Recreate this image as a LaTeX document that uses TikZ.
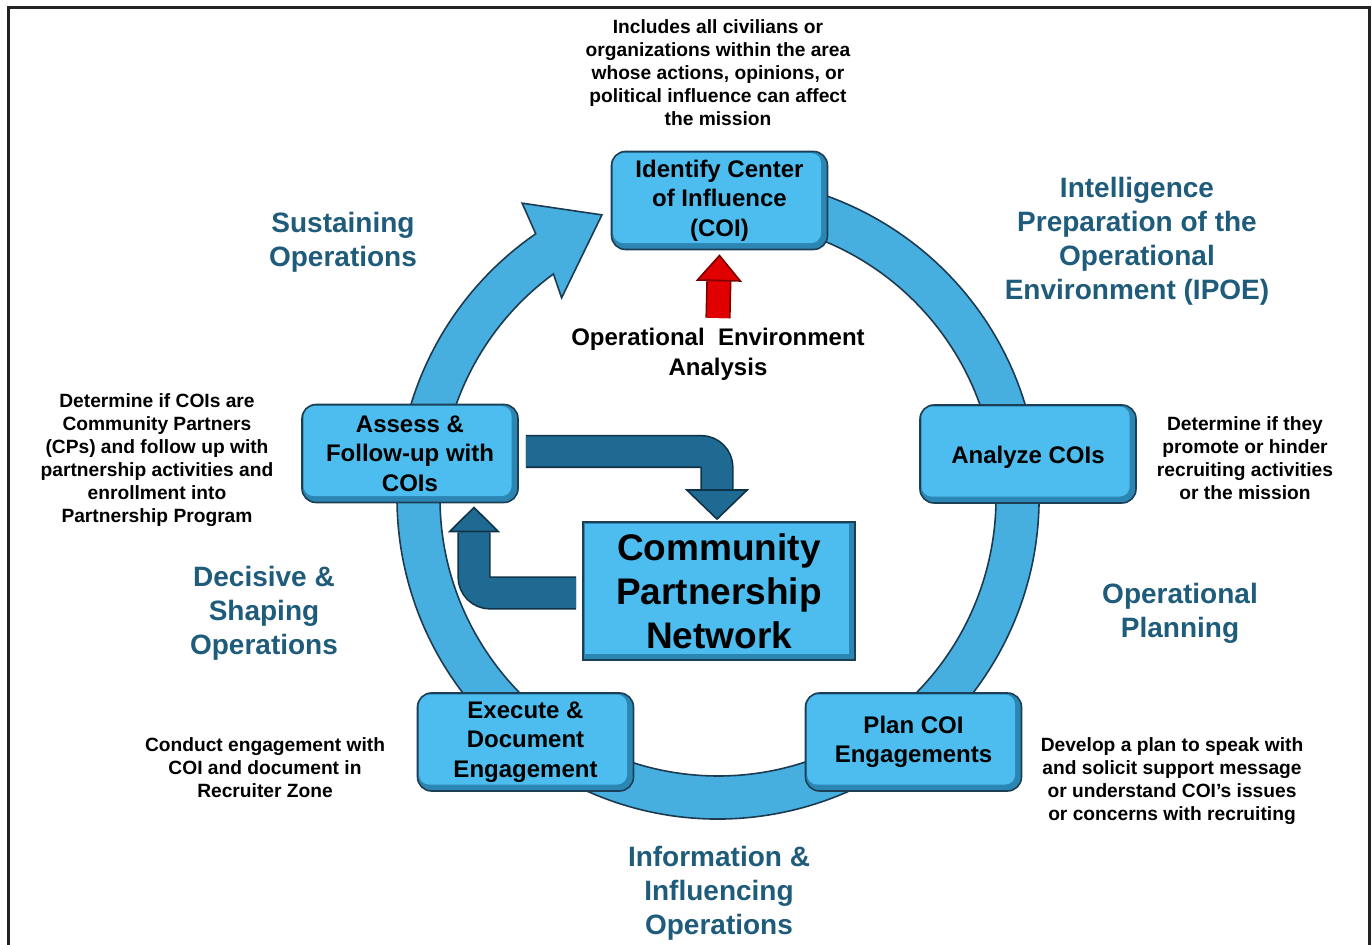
\documentclass[tikz,border=0pt]{standalone}
\usepackage{fontspec}
\setmainfont{Liberation Sans}
\usetikzlibrary{arrows.meta,calc}
\definecolor{boxfill}{HTML}{4CBDEE}
\definecolor{boxdark}{HTML}{2B86B3}
\definecolor{boxline}{HTML}{1D3F55}
\definecolor{ringfill}{HTML}{47AFE0}
\definecolor{ringline}{HTML}{1C3B50}
\definecolor{arrowfill}{HTML}{1F6A93}
\definecolor{arrowline}{HTML}{0F3246}
\definecolor{labelblue}{HTML}{1F5B7A}
\definecolor{redfill}{HTML}{E00000}
\definecolor{redline}{HTML}{7A0000}
\definecolor{framecol}{HTML}{222222}
\begin{document}
\begin{tikzpicture}[x=0.5pt,y=0.5pt,
  cbox/.style={draw=boxline, line width=0.8pt, fill=boxdark, rounded corners=7pt,
    minimum width=108pt, minimum height=49pt, inner sep=0pt, align=center,
    font=\bfseries\fontsize{12}{14.75}\selectfont,
    execute at begin node={\rule{0pt}{11.8pt}},
    path picture={\fill[boxfill,rounded corners=5pt]
      ([shift={(0.8pt,-0.8pt)}]path picture bounding box.north west) rectangle
      ([shift={(-3.2pt,3.2pt)}]path picture bounding box.south east);}},
  bigbox/.style={draw=boxline, line width=0.8pt, fill=boxdark,
    minimum width=136pt, minimum height=69pt, inner sep=0pt, align=center,
    font=\bfseries\fontsize{18.5}{22}\selectfont,
    path picture={\fill[boxfill]
      ([shift={(0.8pt,-0.8pt)}]path picture bounding box.north west) rectangle
      ([shift={(-3.2pt,3.2pt)}]path picture bounding box.south east);}},
  desc/.style={align=center, inner sep=0pt, font=\bfseries\fontsize{9.6}{11.5}\selectfont},
  phase/.style={align=center, inner sep=0pt, text=labelblue, font=\bfseries\fontsize{14}{17}\selectfont},
  oealabel/.style={align=center, inner sep=0pt, font=\bfseries\fontsize{12}{15}\selectfont},
  fatarrow/.style={draw=arrowfill, line width=15pt, rounded corners=8pt,
    preaction={draw=arrowline, line width=16.6pt, arrows=-, shorten >=#1}},
  redarrow/.style={draw=redfill, line width=11pt,
    -{Triangle[width=23pt,length=13.5pt,color=redline,fill=redfill,line width=0.8pt]},
    preaction={draw=redline, line width=12.6pt, arrows=-, shorten >=13pt}}
]
\useasboundingbox (0,0) rectangle (1372,-945);
\draw[framecol, line width=1.5pt] (8,-945) -- (8,-8) -- (1369,-8) -- (1369,-945);

% ring with arrowhead
\coordinate (ringc) at (718,-498);
\fill[ringfill, draw=ringline, line width=0.8pt, line join=miter]
  ($(ringc)+(100:321)$) arc[start angle=100, end angle=-235.4, radius=321]
  -- ($(ringc)+(123.6:354)$) -- ($(ringc)+(112.3:306)$) -- ($(ringc)+(128:254)$)
  -- ($(ringc)+(126.3:278)$) arc[start angle=126.3, end angle=460, radius=278] -- cycle;

% boxes
\node[cbox] (coi) at (719.5,-200.5) {Identify Center\\of Influence\\(COI)};
\node[cbox] (analyze) at (1028,-454) {Analyze COIs};
\node[cbox] (assess) at (410,-453.5) {Assess \&\\Follow-up with\\COIs};
\node[cbox] (execute) at (525.5,-742) {Execute \&\\Document\\Engagement};
\node[cbox] (plan) at (913.5,-742) {Plan COI\\Engagements};
\node[bigbox] (cpn) at (719,-591) {Community\\Partnership\\Network};

% centre arrows
\draw[fatarrow=15pt, -{Triangle[width=32pt,length=15.5pt,color=arrowline,fill=arrowfill,line width=0.8pt]}]
  ($(assess.east)+(7,2)$) -| ($(cpn.north)+(-2,1)$);
\draw[fatarrow=13pt, -{Triangle[width=26pt,length=13pt,color=arrowline,fill=arrowfill,line width=0.8pt]}]
  ($(cpn.west)+(-6,-2)$) -| ($(assess.south)+(64,-3)$);

% red arrow
\node[oealabel] (oea) at (718,-354) {Operational\ \ Environment\\Analysis};
\coordinate (redbase) at (718,-318);
\draw[redarrow] (redbase) -- ($(coi.south)+(0,-4)$);

% phase labels
\node[phase] (sust) at (343,-242) {Sustaining\\Operations};
\node[phase] (ipoe) at (1137,-241.5) {Intelligence\\Preparation of the\\Operational\\Environment (IPOE)};
\node[phase] (opplan) at (1180,-613) {Operational\\Planning};
\node[phase] (decisive) at (264,-613) {Decisive \&\\Shaping\\Operations};
\node[phase] (info) at (719,-893) {Information \&\\Influencing\\Operations};

% descriptions
\node[desc] (tdesc) at (718,-73) {Includes all civilians or\\organizations within the area\\whose actions, opinions, or\\political influence can affect\\the mission};
\node[desc] (ldesc) at (157,-460) {Determine if COIs are\\Community Partners\\(CPs) and follow up with\\partnership activities and\\enrollment into\\Partnership Program};
\node[desc] (rdesc) at (1245,-458.5) {Determine if they\\promote or hinder\\recruiting activities\\or the mission};
\node[desc] (bldesc) at (265,-768) {Conduct engagement with\\COI and document in\\Recruiter Zone};
\node[desc] (brdesc) at (1172,-781.5) {Develop a plan to speak with\\and solicit support message\\or understand COI’s issues\\or concerns with recruiting};
\end{tikzpicture}
\end{document}
